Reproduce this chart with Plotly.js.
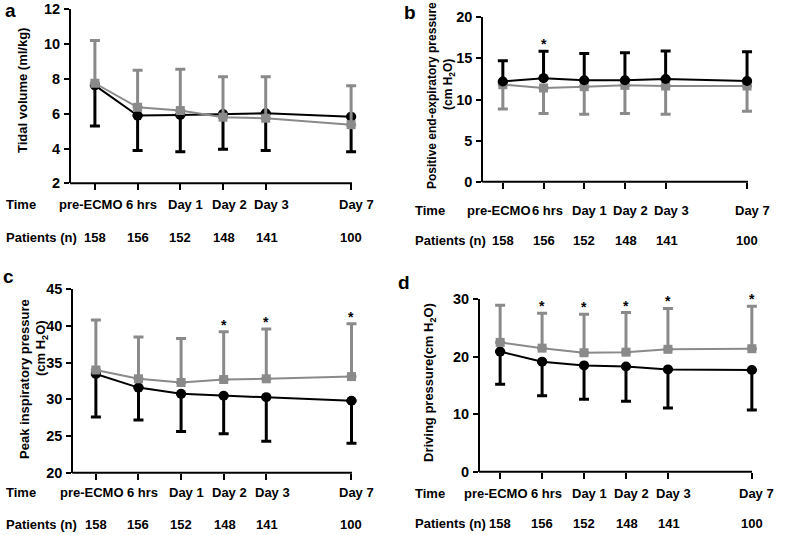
<!DOCTYPE html>
<html>
<head>
<meta charset="utf-8">
<script src="https://cdn.plot.ly/plotly-3.0.1.min.js"></script>
<style>html,body{margin:0;padding:0;background:#fff;}#chart{width:787px;height:535px;}</style>
</head>
<body>
<div id="chart"></div>
<script>
// ---------------- DATA ----------------
const timeLabels = ['pre-ECMO', '6 hrs', 'Day 1', 'Day 2', 'Day 3', 'Day 7'];
const timeX = [0, 1, 2, 3, 4, 6];
const patients = [158, 156, 152, 148, 141, 100];

// a: Tidal volume (ml/kg)
const tvBlackMean = [7.63, 5.89, 5.93, 5.98, 6.02, 5.83];
const tvBlackLow  = [5.30, 3.88, 3.82, 3.95, 3.88, 3.82];
const tvGrayMean  = [7.75, 6.37, 6.18, 5.80, 5.74, 5.37];
const tvGrayHigh  = [10.2, 8.50, 8.55, 8.13, 8.13, 7.60];
const tvSig       = [0, 0, 0, 0, 0, 0];

// b: PEEP (cm H2O)
const peepBlackMean = [12.2, 12.6, 12.35, 12.35, 12.5, 12.25];
const peepBlackHigh = [14.7, 15.86, 15.6, 15.7, 15.9, 15.8];
const peepGrayMean  = [11.8, 11.4, 11.56, 11.72, 11.64, 11.64];
const peepGrayLow   = [8.84, 8.3, 8.2, 8.3, 8.2, 8.56];
const peepSig       = [0, 1, 0, 0, 0, 0];

// c: Peak inspiratory pressure (cm H2O)
const pipBlackMean = [33.45, 31.6, 30.75, 30.5, 30.3, 29.8];
const pipBlackLow  = [27.6, 27.2, 25.6, 25.3, 24.3, 24.0];
const pipGrayMean  = [34.0, 32.8, 32.3, 32.7, 32.8, 33.1];
const pipGrayHigh  = [40.8, 38.5, 38.3, 39.2, 39.6, 40.3];
const pipSig       = [0, 0, 0, 1, 1, 1];

// d: Driving pressure (cm H2O)
const dpBlackMean = [20.9, 19.15, 18.5, 18.3, 17.8, 17.7];
const dpBlackLow  = [15.2, 13.2, 12.6, 12.25, 11.1, 10.75];
const dpGrayMean  = [22.5, 21.5, 20.7, 20.8, 21.3, 21.4];
const dpGrayHigh  = [28.96, 27.57, 27.4, 27.7, 28.4, 28.8];
const dpSig       = [0, 1, 1, 1, 1, 1];

// ---------------- STYLE / LAYOUT ----------------
const W = 787, H = 535;
const FONT = 'Liberation Sans, Arial, sans-serif';
const BLACK = '#000000', GRAY = '#8a8a8a';
const px2x = p => p / W;
const px2y = p => 1 - p / H;
const timeShift = [-4, 4, 5, 6, 6, 5];
const nShift = [0, 0, 0, 1, 1, 0];
const PAD = 8;   // extra room (px) on the right so the Day 7 bars are not clipped

const panels = [
  {id: '', letter: 'a', letterPx: [3, 10],
   dom: [71, 352], vdom: [9.3, 183.3], x0: -0.56, ppu: 42.7, yr: [2, 12], dtick: 2,
   bMean: tvBlackMean, bEnd: tvBlackLow, bUp: false,
   gMean: tvGrayMean, gEnd: tvGrayHigh, gUp: true, sig: tvSig, grayTop: true,
   titles: [{text: 'Tidal volume (ml/kg)', x: 22, y: 91, size: 13}],
   rows: [205, 237], rowLeft: 4},
  {id: '2', letter: 'b', letterPx: [402, 12],
   dom: [483.3, 748], vdom: [17.3, 181.7], x0: -0.48, ppu: 40.7, yr: [0, 20], dtick: 5,
   bMean: peepBlackMean, bEnd: peepBlackHigh, bUp: true,
   gMean: peepGrayMean, gEnd: peepGrayLow, gUp: false, sig: peepSig, grayTop: false,
   titles: [{text: 'Positive end-expiratory pressure', x: 432, y: 96, size: 12},
            {text: '(cm H<sub>2</sub>O)', x: 449, y: 85, size: 12}],
   rows: [210, 240], rowLeft: 413},
  {id: '3', letter: 'c', letterPx: [1, 276],
   dom: [73.3, 352], vdom: [289.3, 472.7], x0: -0.53, ppu: 42.6, yr: [20, 45], dtick: 5,
   bMean: pipBlackMean, bEnd: pipBlackLow, bUp: false,
   gMean: pipGrayMean, gEnd: pipGrayHigh, gUp: true, sig: pipSig, grayTop: true,
   titles: [{text: 'Peak inspiratory pressure', x: 25, y: 379, size: 13},
            {text: '(cm H<sub>2</sub>O)', x: 41, y: 348, size: 13}],
   rows: [492.7, 524], rowLeft: 4},
  {id: '4', letter: 'd', letterPx: [396, 282],
   dom: [480, 752], vdom: [299.3, 471.7], x0: -0.48, ppu: 41.95, yr: [0, 30], dtick: 10,
   bMean: dpBlackMean, bEnd: dpBlackLow, bUp: false,
   gMean: dpGrayMean, gEnd: dpGrayHigh, gUp: true, sig: dpSig, grayTop: true,
   titles: [{text: 'Driving pressure(cm H<sub>2</sub>O)', x: 429, y: 383, size: 13}],
   rows: [493.3, 523.5], rowLeft: 413}
];

const traces = [];
const layout = {
  width: W, height: H,
  margin: {l: 0, r: 0, t: 0, b: 0},
  paper_bgcolor: '#fff', plot_bgcolor: '#fff',
  showlegend: false,
  font: {family: FONT, color: '#000'},
  annotations: [],
  shapes: []
};

function errObj(mean, end, up, color) {
  const d = mean.map((m, i) => Math.abs(end[i] - m));
  const z = mean.map(() => 0);
  return {type: 'data', symmetric: false,
          array: up ? d : z, arrayminus: up ? z : d,
          color: color, thickness: 3, width: 5};
}

panels.forEach(p => {
  const xa = 'x' + p.id, ya = 'y' + p.id;
  const black = {
    x: timeX, y: p.bMean, xaxis: xa, yaxis: ya, type: 'scatter', mode: 'lines+markers',
    cliponaxis: false,
    line: {color: BLACK, width: 2},
    marker: {symbol: 'circle', size: 10, color: BLACK},
    error_y: errObj(p.bMean, p.bEnd, p.bUp, BLACK), hoverinfo: 'skip'
  };
  const gray = {
    x: timeX, y: p.gMean, xaxis: xa, yaxis: ya, type: 'scatter', mode: 'lines+markers',
    cliponaxis: false,
    line: {color: GRAY, width: 2},
    marker: {symbol: 'square', size: 9, color: GRAY},
    error_y: errObj(p.gMean, p.gEnd, p.gUp, GRAY), hoverinfo: 'skip'
  };
  if (p.grayTop) { traces.push(black, gray); } else { traces.push(gray, black); }

  const domR = p.dom[1] + PAD;
  const xr = [p.x0, p.x0 + (domR - p.dom[0]) / p.ppu];
  layout['xaxis' + p.id] = {
    domain: [px2x(p.dom[0]), px2x(domR)], anchor: ya, range: xr,
    showline: false,
    ticks: 'outside', ticklen: 6, tickwidth: 2, tickcolor: '#000',
    tickmode: 'array', tickvals: timeX, showticklabels: false,
    showgrid: false, zeroline: false, fixedrange: true
  };
  layout['yaxis' + p.id] = {
    domain: [px2y(p.vdom[1]), px2y(p.vdom[0])], anchor: xa, range: p.yr,
    showline: true, linecolor: '#000', linewidth: 2,
    ticks: 'outside', ticklen: 5, tickwidth: 2, tickcolor: '#000',
    dtick: p.dtick, tick0: 0, ticklabelstandoff: 1,
    tickfont: {family: FONT, size: 14.5, color: '#000', weight: 700},
    showgrid: false, zeroline: false, fixedrange: true
  };
  // x axis line, ending just after the last tick as in the reference
  layout.shapes.push({
    type: 'line', xref: 'paper', yref: 'paper',
    x0: px2x(p.dom[0] - 1), x1: px2x(p.dom[1]), y0: px2y(p.vdom[1]), y1: px2y(p.vdom[1]),
    line: {color: '#000', width: 2}, layer: 'above'
  });

  // significance stars above the upper bar
  const upEnd = p.bUp ? p.bEnd : p.gEnd;
  p.sig.forEach((s, i) => {
    if (s) layout.annotations.push({
      xref: xa, yref: ya, x: timeX[i], y: upEnd[i], text: '*', showarrow: false,
      xanchor: 'center', yanchor: 'bottom', yshift: -3,
      font: {family: FONT, size: 14, color: '#000', weight: 700}
    });
  });

  // panel letter
  layout.annotations.push({
    xref: 'paper', yref: 'paper', x: px2x(p.letterPx[0]), y: px2y(p.letterPx[1]),
    text: p.letter, showarrow: false, xanchor: 'left', yanchor: 'middle',
    font: {family: FONT, size: 19, color: '#000', weight: 700}
  });

  // axis titles
  p.titles.forEach(t => layout.annotations.push({
    xref: 'paper', yref: 'paper', x: px2x(t.x), y: px2y(t.y), text: t.text,
    showarrow: false, textangle: -90, xanchor: 'center', yanchor: 'middle',
    font: {family: FONT, size: t.size, color: '#000', weight: 700}
  }));

  // Time row and Patients row
  const rowFont = {family: FONT, size: 13, color: '#000', weight: 700};
  layout.annotations.push({
    xref: 'paper', yref: 'paper', x: px2x(p.rowLeft), y: px2y(p.rows[0]), text: 'Time',
    showarrow: false, xanchor: 'left', yanchor: 'middle', font: rowFont
  });
  layout.annotations.push({
    xref: 'paper', yref: 'paper', x: px2x(p.rowLeft), y: px2y(p.rows[1]), text: 'Patients (n)',
    showarrow: false, xanchor: 'left', yanchor: 'middle', font: rowFont
  });
  timeLabels.forEach((lab, i) => {
    layout.annotations.push({
      xref: xa, yref: 'paper', x: timeX[i], y: px2y(p.rows[0]), text: lab,
      showarrow: false, xanchor: 'center', yanchor: 'middle', xshift: timeShift[i], font: rowFont
    });
    layout.annotations.push({
      xref: xa, yref: 'paper', x: timeX[i], y: px2y(p.rows[1]), text: String(patients[i]),
      showarrow: false, xanchor: 'center', yanchor: 'middle', xshift: nShift[i], font: rowFont
    });
  });
});

Plotly.newPlot('chart', traces, layout, {displayModeBar: false, staticPlot: true});
</script>
</body>
</html>
